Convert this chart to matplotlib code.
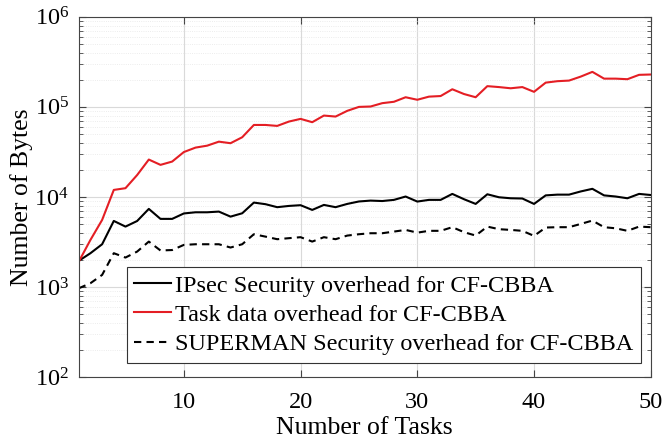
import matplotlib
matplotlib.use("Agg")
import matplotlib.pyplot as plt
import numpy as np
from matplotlib.ticker import LogLocator, NullFormatter

tasks = list(range(1, 51))
task_data = [1910, 3330, 5550, 11960, 12500, 17500, 26000, 22700, 24700, 31500,
             35300, 37100, 41100, 39500, 46000, 63000, 63000, 61500, 68700, 73600,
             67600, 80100, 78100, 90400, 100000, 101000, 110000, 114000, 128000, 120000,
             130000, 132000, 157000, 139000, 128000, 170000, 166000, 161000, 166000, 147000,
             186000, 193000, 196000, 217000, 245000, 206000, 206000, 203000, 227000, 229000]
ipsec = [1950, 2370, 2980, 5410, 4680, 5400, 7360, 5700, 5700, 6550,
         6750, 6750, 6870, 6040, 6580, 8650, 8300, 7690, 7940, 8090,
         7170, 8150, 7690, 8360, 8900, 9100, 9000, 9270, 10100, 8880,
         9270, 9270, 10800, 9430, 8360, 10700, 9910, 9660, 9600, 8360,
         10400, 10600, 10600, 11500, 12300, 10400, 10100, 9660, 10800, 10500]
superman = [966, 1100, 1360, 2370, 2120, 2470, 3190, 2540, 2570, 2930,
            2980, 2980, 2980, 2740, 2980, 3850, 3620, 3390, 3480, 3570,
            3190, 3570, 3390, 3720, 3850, 3950, 3950, 4120, 4300, 4010,
            4200, 4200, 4610, 4060, 3720, 4680, 4380, 4300, 4200, 3690,
            4570, 4610, 4610, 5010, 5460, 4610, 4480, 4200, 4680, 4610]
labels = ["IPsec Security overhead for CF-CBBA",
          "Task data overhead for CF-CBBA",
          "SUPERMAN Security overhead for CF-CBBA"]

plt.rcParams['font.family'] = ['Liberation Serif', 'DejaVu Serif']
plt.rcParams['mathtext.fontset'] = 'custom'
plt.rcParams['mathtext.rm'] = 'Liberation Serif'

fig = plt.figure(figsize=(6.62, 4.44), dpi=100)
ax = fig.add_axes([0.119, 0.151, 0.864, 0.811])

ax.plot(tasks, ipsec, color='black', lw=1.5, label=labels[0])
ax.plot(tasks, task_data, color='#e41e24', lw=1.5, label=labels[1])
ax.plot(tasks, superman, color='black', lw=1.5, ls=(0, (3.5, 2.5)), label=labels[2])

ax.set_yscale('log')
ax.set_xlim(1, 50)
ax.set_ylim(1e2, 1e6)
ax.set_xticks([10, 20, 30, 40, 50])
ax.yaxis.set_major_locator(LogLocator(base=10, numticks=10))
ax.yaxis.set_minor_locator(LogLocator(base=10, subs=np.arange(2, 10), numticks=20))
ax.yaxis.set_minor_formatter(NullFormatter())

ax.grid(True, which='major', color='#d9d9d9', lw=0.8)
ax.grid(True, which='minor', axis='y', color='#e6e6e6', lw=0.6, ls=':')
ax.set_axisbelow(True)

ax.tick_params(which='both', direction='in', top=True, right=True, labelsize=17.5,
               color='#444444')
ax.tick_params(axis='x', pad=11)
ax.tick_params(axis='y', pad=7)
ax.tick_params(which='major', length=5)
ax.tick_params(which='minor', length=3)
for s in ax.spines.values():
    s.set_color('#444444')
    s.set_linewidth(0.8)

ax.set_xlabel("Number of Tasks", fontsize=18.5, labelpad=3)
ax.set_ylabel("Number of Bytes", fontsize=18.5, labelpad=1)

leg = ax.legend(loc='lower right', bbox_to_anchor=(0.983, 0.04), fontsize=17.5,
                handlelength=1.5, handletextpad=0.2, borderpad=0.3,
                labelspacing=0.3, fancybox=False, framealpha=1,
                edgecolor='#333333', borderaxespad=0)
leg.get_frame().set_linewidth(0.8)

fig.savefig("out.png", dpi=100)
